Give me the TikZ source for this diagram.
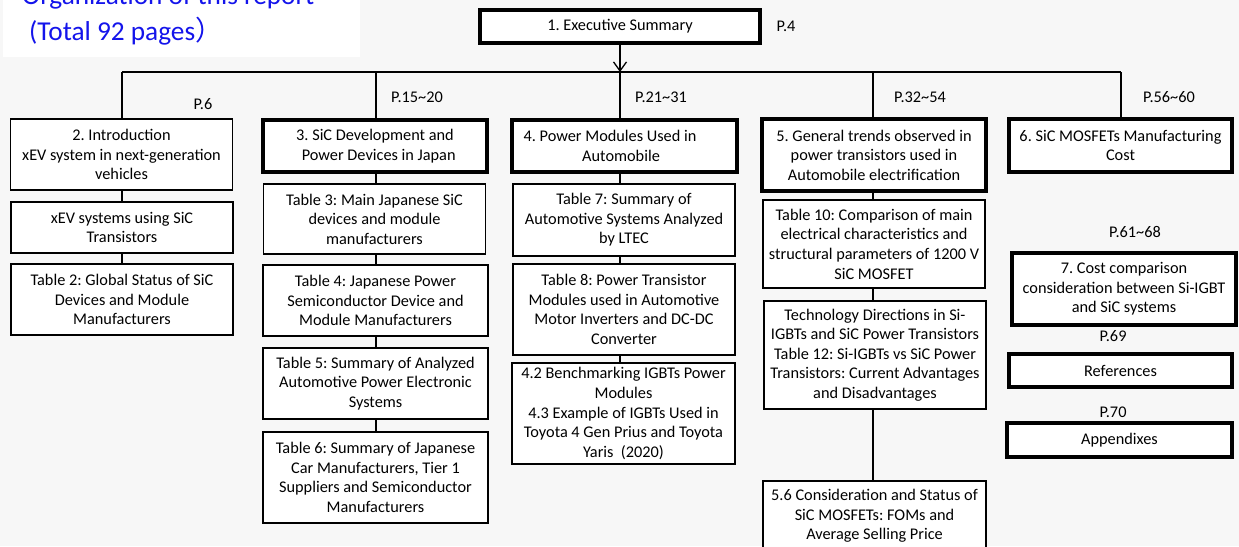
\documentclass[tikz,border=0pt]{standalone}
\usepackage{fontspec}
\setmainfont{Carlito}
\newfontfamily\cjkfont{Noto Sans CJK JP}
\usetikzlibrary{arrows.meta}
\definecolor{bgc}{RGB}{247,247,247}
\definecolor{titleblue}{RGB}{20,20,235}
\frenchspacing
\tikzset{
  box/.style={draw=black, fill=white, line width=1.3pt, inner sep=0pt, align=center,
    font=\fontsize{16.3}{19.6}\selectfont},
  thickbox/.style={box, line width=3.4pt},
  pg/.style={inner sep=0pt, font=\fontsize{16.3}{19.6}\selectfont},
  conn/.style={draw=black, line width=1.3pt},
}
\begin{document}
\begin{tikzpicture}[x=1pt,y=-1pt]
\useasboundingbox (0,0) rectangle (1239,546);
\clip (0,0) rectangle (1239,546);
\fill[bgc] (0,0) rectangle (1239,546);
\fill[white] (3,-5) rectangle (360,57);
\node[anchor=base west, inner sep=0pt, text=titleblue, font=\fontsize{27.3}{30}\selectfont] (title1) at (22,5) {Organization of this report};
\node[anchor=base west, inner sep=0pt, text=titleblue, font=\fontsize{27.3}{30}\selectfont] (title2) at (29,40) {(Total 92 pages{\cjkfont ）}};

% executive summary
\node[thickbox, minimum width=280pt, minimum height=33pt] (exec) at (620,26.5) {1. Executive Summary};
\node[pg] (p4) at (786,26) {P.4};

% bus
\coordinate (bus) at (620,72);
\coordinate (busL) at (122,72);
\coordinate (busR) at (1121,72);
\coordinate (c2) at (376,72);
\coordinate (c4) at (873,72);
\draw[conn, -{Straight Barb[length=9pt,width=13pt,line width=1.3pt]}] (exec.south) -- (bus);
\draw[conn] (busL) -- (busR);

% page labels
\node[pg] (p6) at (203,104) {P.6};
\node[pg] (p15) at (417,97) {P.15\textasciitilde 20};
\node[pg] (p21) at (661,97) {P.21\textasciitilde 31};
\node[pg] (p32) at (920,97) {P.32\textasciitilde 54};
\node[pg] (p56) at (1169,97) {P.56\textasciitilde 60};
\node[pg] (p61) at (1135,232) {P.61\textasciitilde 68};
\node[pg] (p69) at (1113,336) {P.69};
\node[pg] (p70) at (1113,412) {P.70};

% column 1
\node[box, minimum width=222pt, minimum height=71pt] (n2) at (121.5,154.5) {2. Introduction\\xEV system in next-generation\\vehicles};
\node[box, minimum width=222pt, minimum height=51pt] (n2a) at (122,227.5) {xEV systems using SiC\\Transistors};
\node[box, minimum width=222pt, minimum height=71pt] (n2b) at (122,299.5) {Table 2: Global Status of SiC\\Devices and Module\\Manufacturers};

% column 2
\node[thickbox, minimum width=224pt, minimum height=52pt] (n3) at (375,146) {3. SiC Development and\\\ \ Power Devices in Japan};
\node[box, minimum width=222pt, minimum height=70pt] (t3) at (374.5,219) {Table 3: Main Japanese SiC\\devices and module\\manufacturers};
\node[box, minimum width=225pt, minimum height=71pt] (t4) at (375.5,300.5) {Table 4: Japanese Power\\Semiconductor Device and\\Module Manufacturers};
\node[box, minimum width=225pt, minimum height=71pt] (t5) at (375.5,383.5) {Table 5: Summary of Analyzed\\Automotive Power Electronic\\Systems};
\node[box, minimum width=225pt, minimum height=91pt] (t6) at (375.5,477.5) {Table 6: Summary of Japanese\\Car Manufacturers, Tier 1\\Suppliers and Semiconductor\\Manufacturers};

% column 3
\node[thickbox, minimum width=225pt, minimum height=52pt] (n4) at (624.5,146) {};
\node[pg, align=center] (n4t) at (610,146) {4. Power Modules Used in\\\ \ \ \ \ \ Automobile};
\node[box, minimum width=222pt, minimum height=72pt] (t7) at (624,220) {Table 7: Summary of\\Automotive Systems Analyzed\\by LTEC};
\node[box, minimum width=222pt, minimum height=91pt] (t8) at (624,309.5) {Table 8: Power Transistor\\Modules used in Automotive\\Motor Inverters and DC-DC\\Converter};
\node[box, minimum width=223pt, minimum height=101pt] (n42) at (623.5,413.5) {4.2 Benchmarking IGBTs Power\\Modules\\4.3 Example of IGBTs Used in\\Toyota 4 Gen Prius and Toyota\\Yaris\ \ (2020)};

% column 4
\node[thickbox, minimum width=224pt, minimum height=72pt] (n5) at (874,155) {5. General trends observed in\\power transistors used in\\Automobile electrification};
\node[box, minimum width=222pt, minimum height=88pt] (t10) at (874,244) {Table 10: Comparison of main\\electrical characteristics and\\structural parameters of 1200 V\\SiC MOSFET};
\node[box, minimum width=222pt, minimum height=108pt] (tech) at (875,355) {Technology Directions in Si-\\IGBTs and SiC Power Transistors\\Table 12: Si-IGBTs vs SiC Power\\Transistors: Current Advantages\\and Disadvantages};
\node[box, minimum width=223pt, minimum height=70pt] (n56) at (874.5,516) {5.6 Consideration and Status of\\SiC MOSFETs: FOMs and\\Average Selling Price};

% column 5
\node[thickbox, minimum width=223pt, minimum height=53pt] (n6) at (1120.5,145.5) {6. SiC MOSFETs Manufacturing\\Cost};
\node[thickbox, minimum width=224pt, minimum height=72pt] (n7) at (1124,289) {7. Cost comparison\\consideration between Si-IGBT\\and SiC systems};
\node[thickbox, minimum width=223pt, minimum height=33pt] (ref) at (1120.5,370.5) {References};
\node[thickbox, minimum width=225pt, minimum height=34pt] (app) at (1119.5,440) {Appendixes};

% connectors from bus
\draw[conn] (busL) -- (n2.north -| busL);
\draw[conn] (c2) -- (n3.north -| c2);
\draw[conn] (bus) -- (n4.north -| bus);
\draw[conn] (c4) -- (n5.north -| c4);
\draw[conn] (busR) -- (n6.north -| busR);

% column connectors
\draw[conn] (n2.south -| busL) -- (n2a.north -| busL);
\draw[conn] (n2a.south -| busL) -- (n2b.north -| busL);
\draw[conn] (n3.south -| c2) -- (t3.north -| c2);
\draw[conn] (t3.south -| c2) -- (t4.north -| c2);
\draw[conn] (t4.south -| c2) -- (t5.north -| c2);
\draw[conn] (t5.south -| c2) -- (t6.north -| c2);
\draw[conn] (n4.south -| bus) -- (t7.north -| bus);
\draw[conn] (t7.south -| bus) -- (t8.north -| bus);
\draw[conn] (t8.south -| bus) -- (n42.north -| bus);
\draw[conn] (n5.south -| c4) -- (t10.north -| c4);
\draw[conn] (t10.south -| c4) -- (tech.north -| c4);
\draw[conn] (tech.south -| c4) -- (n56.north -| c4);
\end{tikzpicture}
\end{document}
